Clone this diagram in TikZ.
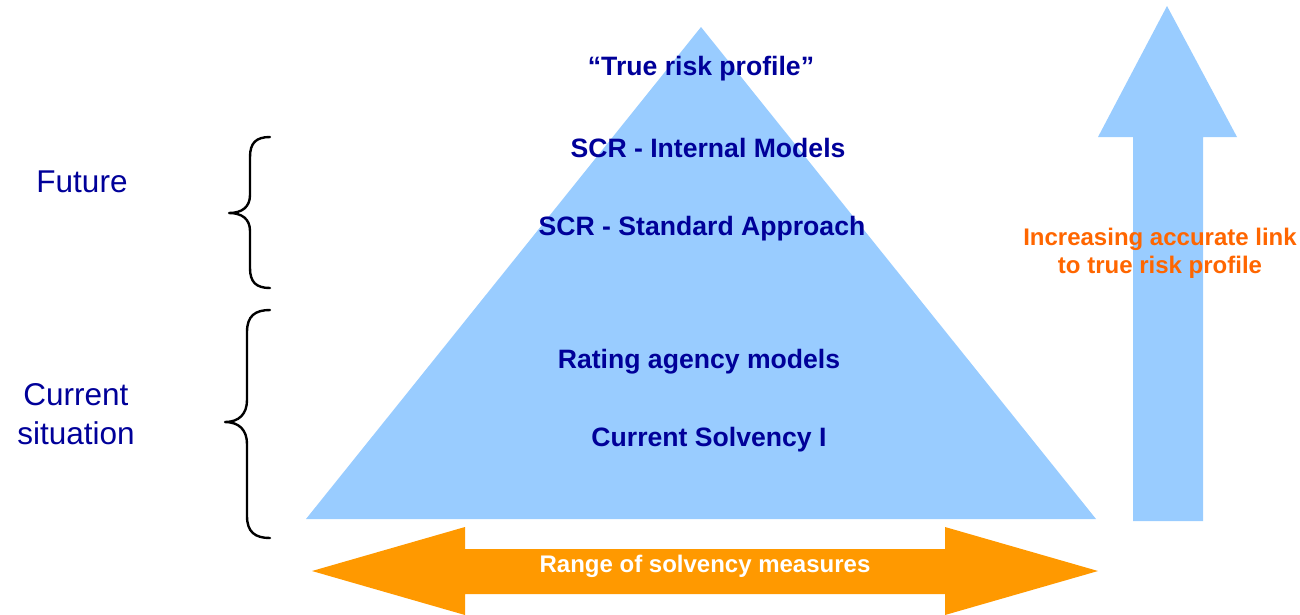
\documentclass[tikz,border=0pt]{standalone}
\usepackage{fontspec}
\setmainfont{Liberation Sans}
\definecolor{triblue}{HTML}{99CCFF}
\definecolor{arrorange}{HTML}{FF9900}
\definecolor{darkblue}{HTML}{000099}
\definecolor{txtorange}{HTML}{FF6600}
\begin{document}
\begin{tikzpicture}[x=1pt,y=-1pt,
  lvl/.style={font=\fontsize{26.6}{30}\selectfont\bfseries, text=darkblue, anchor=base, inner sep=0pt},
  side/.style={font=\fontsize{31.5}{38}\selectfont, text=darkblue, anchor=base, inner sep=0pt},
  orng/.style={font=\fontsize{24}{28}\selectfont\bfseries, text=txtorange, anchor=base, inner sep=0pt},
  brace/.style={draw=black, line width=2.4pt, line cap=round, line join=round}]
\useasboundingbox (0,0) rectangle (1300,614);
% triangle
\fill[triblue] (701,27) -- (1096,519) -- (306,519) -- cycle;
% right up arrow
\fill[triblue] (1167,6) -- (1237,137) -- (1203,137) -- (1203,521) -- (1133,521) -- (1133,137) -- (1098,137) -- cycle;
% bottom double arrow
\fill[arrorange] (312,571) -- (465,527) -- (465,549) -- (945,549) -- (945,527) -- (1098,571) -- (945,615) -- (945,594) -- (465,594) -- (465,615) -- cycle;
% labels in triangle
\node[lvl] (t1) at (701,75) {“True risk profile”};
\node[lvl] (t2) at (708,157) {SCR - Internal Models};
\node[lvl] (t3) at (702,235) {SCR - Standard Approach};
\node[lvl] (t4) at (699,368) {Rating agency models};
\node[lvl] (t5) at (709,446) {Current Solvency I};
\node[font=\fontsize{24}{28}\selectfont\bfseries, text=white, anchor=base, inner sep=0pt] (rng) at (705,572) {Range of solvency measures};
\node[orng] (o1) at (1160,245) {Increasing accurate link};
\node[orng] (o2) at (1160,273) {to true risk profile};
% side labels
\node[side] (fut) at (82,192) {Future};
\node[side] (cur) at (76,405) {Current};
\node[side] (sit) at (76,444) {situation};
% braces
\draw[brace] (270,137) .. controls (256,137) and (250,143) .. (250,157) -- (250,195)
  .. controls (250,207) and (242,213) .. (229,213)
  .. controls (242,213) and (250,219) .. (250,231) -- (250,268)
  .. controls (250,282) and (256,288) .. (270,288);
\draw[brace] (270,310) .. controls (255,310) and (247,316) .. (247,332) -- (247,400)
  .. controls (247,414) and (239,422) .. (225,422)
  .. controls (239,422) and (247,430) .. (247,444) -- (247,516)
  .. controls (247,532) and (255,538) .. (270,538);
\end{tikzpicture}
\end{document}
